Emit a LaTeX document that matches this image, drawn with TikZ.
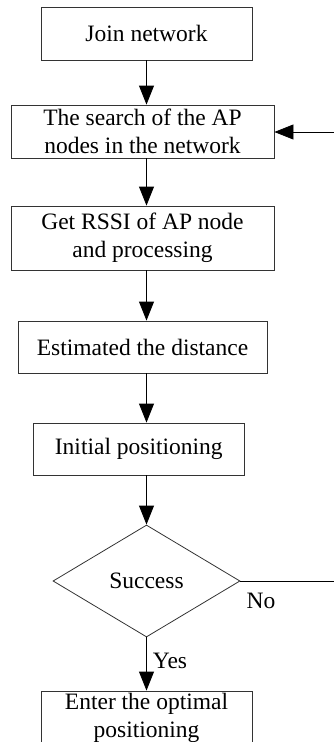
\documentclass[tikz,border=0pt]{standalone}
\usepackage{fontspec}
\setmainfont{Liberation Serif}
\usetikzlibrary{shapes.geometric,arrows.meta}
\begin{document}
\begin{tikzpicture}[x=1pt,y=-1pt,
  box/.style={draw=black!80,line width=0.8pt,inner sep=0pt,align=center,font=\fontsize{23.5}{28}\selectfont},
  dec/.style={draw=black!80,line width=0.8pt,shape=diamond,inner sep=0pt,minimum width=187pt,minimum height=112pt,aspect=1.67,font=\fontsize{23.5}{28}\selectfont},
  lbl/.style={inner sep=0pt,font=\fontsize{23.5}{28}\selectfont},
  arr/.style={line width=0.8pt,-{Triangle[length=19pt,width=15pt]}},
  ln/.style={line width=0.8pt}]
\useasboundingbox (0,0) rectangle (334,742);
\clip (0,0) rectangle (334,742);
\coordinate (ax) at (146.5,0);
\node[box,minimum width=211pt,minimum height=53pt] (b1) at (146.5,33.5) {Join network};
\node[box,minimum width=263pt,minimum height=53pt] (b2) at (142.5,131.5) {The search of the AP\\nodes in the network};
\node[box,minimum width=263pt,minimum height=64pt] (b3) at (142.5,238) {Get RSSI of AP node\\and processing};
\node[box,minimum width=249pt,minimum height=52pt] (b4) at (142.5,347) {Estimated the distance};
\node[box,minimum width=211pt,minimum height=52pt] (b5) at (138.8,449) {Initial positioning};
\node[dec] (d) at (146.5,581) {Success};
\node[box,minimum width=211pt,minimum height=54pt] (b6) at (146.5,718) {Enter the optimal\\positioning};
\coordinate (fbin) at (334,132);
\coordinate (fbout) at (334,581);
\draw[arr] (ax |- b1.south) -- (ax |- b2.north);
\draw[arr] (ax |- b2.south) -- (ax |- b3.north);
\draw[arr] (ax |- b3.south) -- (ax |- b4.north);
\draw[arr] (ax |- b4.south) -- (ax |- b5.north);
\draw[arr] (ax |- b5.south) -- (d.north);
\draw[arr] (d.south) -- (b6.north);
\draw[ln] (d.east) -- (fbout);
\draw[arr] (fbin) -- (b2.east |- fbin);
\node[lbl] (no) at (261,601) {No};
\node[lbl] (yes) at (170,661) {Yes};
\end{tikzpicture}
\end{document}
